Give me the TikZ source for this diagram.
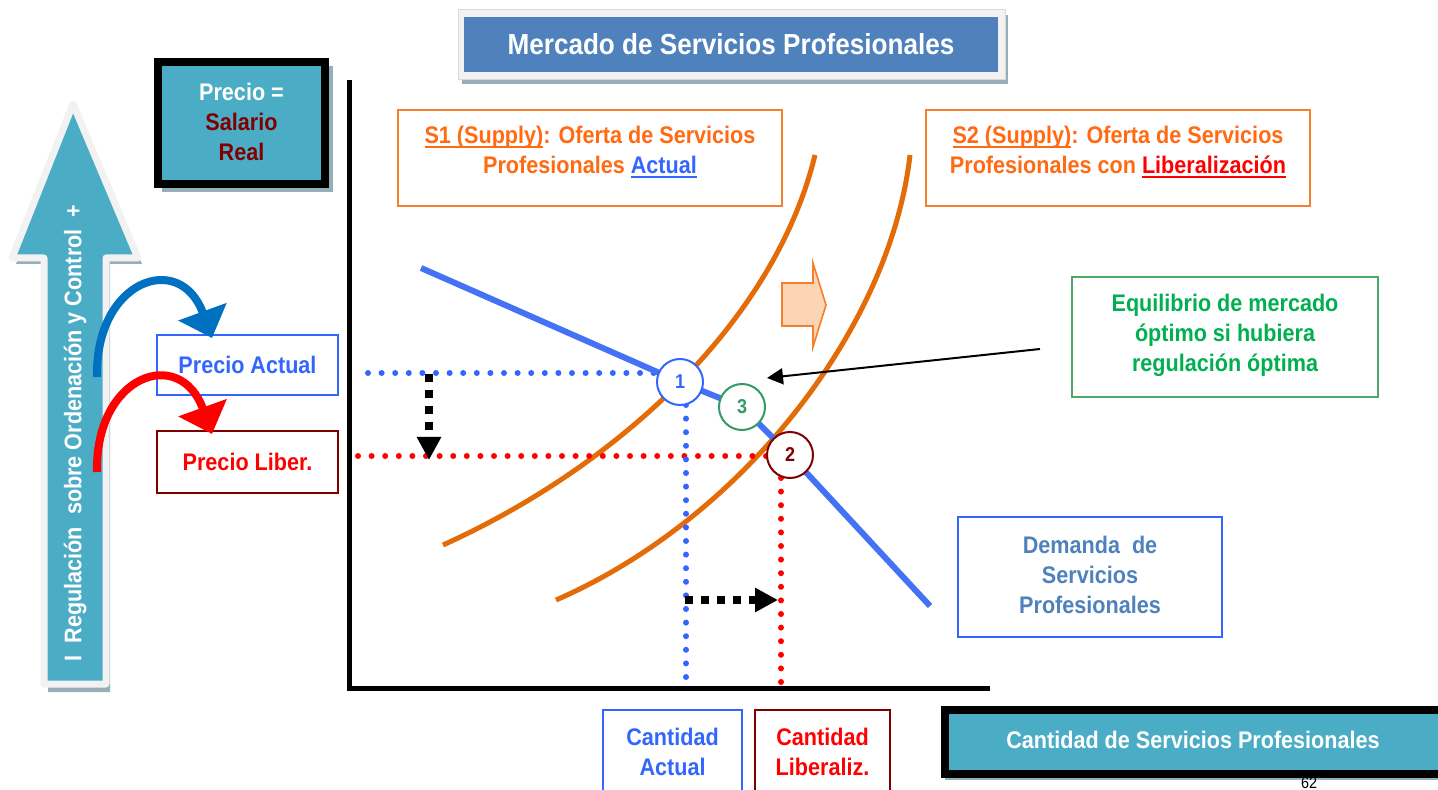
\documentclass[tikz,border=0pt]{standalone}
\usepackage{fontspec}
\setmainfont{Liberation Sans}[FakeStretch=0.9]
\usetikzlibrary{arrows.meta}
\definecolor{teal1}{HTML}{4BACC6}
\definecolor{titleblue}{HTML}{4F81BD}
\definecolor{dred}{HTML}{800000}
\definecolor{otext}{HTML}{FF6A13}
\definecolor{oborder}{HTML}{F57F2E}
\definecolor{ocurve}{HTML}{E36C09}
\definecolor{bltext}{HTML}{3366FF}
\definecolor{dline}{HTML}{4472F4}
\definecolor{gtext}{HTML}{00B050}
\definecolor{gborder}{HTML}{4EA86C}
\definecolor{gcirc}{HTML}{339966}
\definecolor{steel}{HTML}{4F81BD}
\definecolor{arrblue}{HTML}{0070C0}
\definecolor{shadowc}{HTML}{95AEB8}
\definecolor{framec}{HTML}{F2F2F2}
\definecolor{peach}{HTML}{FCD5B5}
\newcommand\ulx[1]{\setbox0\hbox{#1}\rlap{\rule[-2pt]{\wd0}{0.9pt}}\box0}
\begin{document}
\begin{tikzpicture}[x=0.5pt,y=-0.5pt,
  txt/.style={font=\bfseries\fontsize{12}{15}\selectfont, align=center, inner sep=0pt},
  frm/.style={draw=#1, line width=1pt, fill=white, inner sep=0pt},
  num/.style={circle, draw=#1, line width=1pt, fill=white, minimum size=23pt, inner sep=0pt, text=#1, font=\bfseries\fontsize{10}{11}\selectfont},
  dots/.style={draw=#1, line width=3pt, line cap=round, dash pattern=on 0pt off 6.8pt},
  blk/.style={line width=4pt, dash pattern=on 4pt off 4pt, -{Triangle[length=11.5pt,width=11.5pt,sep=0pt]}},
  curvarr/.style={draw=#1, line width=4pt, -{Triangle[length=14pt,width=25pt]}},
  supply/.style={ocurve, line width=2.5pt},
  tealbox/.style={fill=teal1, draw=black, line width=4pt, inner sep=0pt}
]
\useasboundingbox (0,0) rectangle (1438,790);
\clip (0,0) rectangle (1438,790);

% title
\fill[shadowc] (462,15) rectangle (1008,84);
\filldraw[fill=framec, draw=gray!30, line width=0.5pt] (458,10) rectangle (1005,80);
\node[fill=titleblue, minimum width=267pt, minimum height=27.5pt, inner sep=0pt, text=white, font=\bfseries\fontsize{14.5}{18}\selectfont] (title) at (731,44.5) {Mercado de Servicios Profesionales};

% precio box
\fill[shadowc] (162,66) rectangle (333,192);
\node[tealbox, minimum width=83.5pt, minimum height=61pt] (precio) at (241.5,123) {};
\node[txt] (preciotxt) at (241.5,122) {\textcolor{white}{Precio =}\\\textcolor{dred}{Salario}\\\textcolor{dred}{Real}};

% left big arrow
\fill[shadowc] (77,112) -- (142,264) -- (110,264) -- (110,692) -- (48,692) -- (48,264) -- (16,264) -- cycle;
\draw[fill=teal1, draw=framec, line width=3.5pt, line join=round] (73,104) -- (138,258) -- (106,258) -- (106,684) -- (44,684) -- (44,258) -- (12,258) -- cycle;
\node[txt, text=white, rotate=90] (regtxt) at (75,433) {I\ \ Regulación\ \ sobre Ordenación y Control\ \ +};

% price boxes
\node[frm=bltext, minimum width=90.5pt, minimum height=30pt, txt, text=bltext] (pa) at (247.5,365) {Precio Actual};
\node[frm=dred, minimum width=90.5pt, minimum height=31pt, txt, text=red] (pl) at (247.5,462) {Precio Liber.};

% curved arrows
\coordinate (ba0) at (97,377);
\coordinate (ba1) at (212,338);
\coordinate (ra0) at (97,472);
\coordinate (ra1) at (212,434);
\draw[curvarr=arrblue] (ba0) .. controls (95,280) and (180,250) .. (ba1);
\draw[curvarr=red] (ra0) .. controls (95,375) and (180,345) .. (ra1);

% axes
\coordinate (ytop) at (349,80);
\coordinate (orig) at (349,688);
\coordinate (xend) at (990,688);
\draw[line width=2.5pt] (ytop) -- (orig) -- (xend);

% supply boxes
\node[frm=oborder, minimum width=192pt, minimum height=48pt] (s1) at (590,158) {};
\node[txt, text=otext] (s1t) at (590,152) {\ulx{S1 (Supply)}: Oferta de Servicios\\Profesionales \textcolor{bltext}{\ulx{Actual}}};
\node[frm=oborder, minimum width=192pt, minimum height=48pt] (s2) at (1118,158) {};
\node[txt, text=otext] (s2t) at (1118,152) {\ulx{S2 (Supply)}: Oferta de Servicios\\Profesionales con \textcolor{red}{\ulx{Liberalización}}};

% supply curves
\coordinate (s1a) at (443,545);
\coordinate (s1b) at (815,155);
\coordinate (s2a) at (556,600);
\coordinate (s2b) at (910,155);
\draw[supply] (s1a) .. controls (620,465) and (775,320) .. (s1b);
\draw[supply] (s2a) .. controls (740,520) and (890,330) .. (s2b);

% circle positions
\coordinate (p1) at (680,382);
\coordinate (p3) at (742,407);
\coordinate (p2) at (790,455);

% dotted guides
\coordinate (rh0) at (358,456);
\coordinate (rh1) at (766,456);
\coordinate (rv0) at (781,478);
\coordinate (rv1) at (781,688);
\coordinate (bh0) at (368,373);
\coordinate (bh1) at (660,373);
\coordinate (bv0) at (686,405);
\coordinate (bv1) at (686,688);
\draw[dots=red] (rh0) -- (rh1);
\draw[dots=red] (rv0) -- (rv1);
\draw[dots=bltext] (bh0) -- (bh1);
\draw[dots=bltext] (bv0) -- (bv1);

% demand
\coordinate (d0) at (421,268);
\coordinate (d1) at (930,606);
\draw[dline, line width=3pt, line join=round] (d0) -- (p1) -- (p3) -- (p2) -- (d1);

% black dashed arrows
\coordinate (va0) at (429,374);
\coordinate (va1) at (429,460);
\coordinate (ha0) at (685,600);
\coordinate (ha1) at (778,600);
\draw[blk] (va0) -- (va1);
\draw[blk] (ha0) -- (ha1);

% orange shift arrow
\filldraw[fill=peach, draw=oborder, line width=0.8pt, line join=miter] (782,283) -- (813,283) -- (813,263) -- (826,305) -- (813,347) -- (813,326) -- (782,326) -- cycle;

% circles
\node[num=bltext] (c1) at (p1) {1};
\node[num=gcirc] (c3) at (p3) {3};
\node[num=dred] (c2) at (p2) {2};

% equilibrium box
\node[frm=gborder, minimum width=153pt, minimum height=60pt] (eq) at (1225,337) {};
\node[txt, text=gtext] (eqt) at (1225,335) {Equilibrio de mercado\\óptimo si hubiera\\regulación óptima};
\coordinate (eqs) at (1040,349);
\coordinate (eqe) at (767,378);
\draw[line width=1pt, -{Triangle[length=8pt,width=8pt]}] (eqs) -- (eqe);

% demand box
\node[frm=bltext, minimum width=132pt, minimum height=60pt] (dem) at (1090,577) {};
\node[txt, text=steel] (demt) at (1090,575) {Demanda\ \ de\\Servicios\\Profesionales};

% quantity boxes
\node[frm=bltext, minimum width=69.5pt, minimum height=55pt] (qa) at (672.5,765) {};
\node[txt, text=bltext] (qat) at (672.5,752) {Cantidad\\Actual};
\node[frm=dred, minimum width=67.5pt, minimum height=55pt] (ql) at (822.5,765) {};
\node[txt, text=red] (qlt) at (822.5,752) {Cantidad\\Liberaliz.};

% x axis label box
\fill[shadowc] (945,774) rectangle (1446,780);
\node[tealbox, minimum width=248.5pt, minimum height=32pt] (xlab) at (1193.5,742) {};
\node[txt, text=white] (xlabt) at (1193,740) {Cantidad de Servicios Profesionales};

% page number
\node[inner sep=0pt, font=\fontsize{8}{9}\selectfont] (pg) at (1309,783) {62};
\end{tikzpicture}
\end{document}
